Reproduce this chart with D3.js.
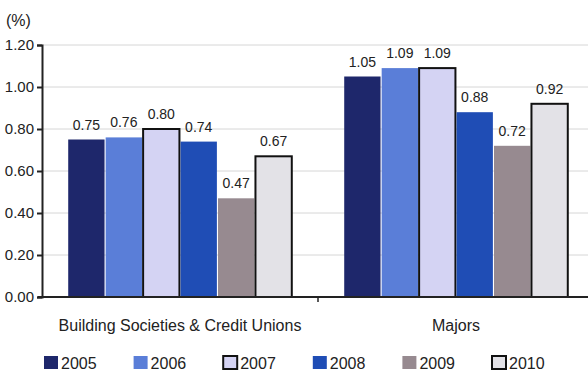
<!DOCTYPE html>
<html><head><meta charset="utf-8">
<script src="https://cdn.jsdelivr.net/npm/d3@7"></script>
<style>body{margin:0;background:#fff}svg{display:block;font-family:"Liberation Sans",Arial,sans-serif}</style>
</head><body><svg id="c" width="588" height="372"></svg>
<script>
const categories = ["Building Societies & Credit Unions", "Majors"];
const years = ["2005", "2006", "2007", "2008", "2009", "2010"];
const values2005 = [0.75, 1.05];
const values2006 = [0.76, 1.09];
const values2007 = [0.80, 1.09];
const values2008 = [0.74, 0.88];
const values2009 = [0.47, 0.72];
const values2010 = [0.67, 0.92];
const yTicks = [0, 0.2, 0.4, 0.6, 0.8, 1.0, 1.2];

const series = [values2005, values2006, values2007, values2008, values2009, values2010];
const colors = ["#1e276b", "#5a7ed8", "#d4d3f3", "#1f4db5", "#978a90", "#e3e2e7"];
const strokes = [null, null, "#111", null, null, "#111"];
const FONT = "'Liberation Sans', Arial, sans-serif";

const svg = d3.select("#c");
const x0 = d3.scaleBand().domain(categories).range([42, 594]).paddingInner(0).paddingOuter(0);
const x1 = d3.scaleBand().domain(years).range([0, x0.bandwidth()]).paddingInner(0.03).paddingOuter(0.7);
const y = d3.scaleLinear().domain([0, 1.2]).range([297, 45]);

// gridlines
svg.append("g").selectAll("line").data(yTicks.slice(1)).join("line")
  .attr("x1", 42).attr("x2", 588).attr("y1", d => y(d)).attr("y2", d => y(d))
  .attr("stroke", "#d6d6d6").attr("stroke-width", 1);

// y axis
const yAxis = d3.axisLeft(y).tickValues(yTicks).tickFormat(d3.format(".2f")).tickSize(5).tickPadding(3);
const gy = svg.append("g").attr("transform", "translate(42,0)").call(yAxis);
gy.select(".domain").attr("stroke", "#222").attr("stroke-width", 2);
gy.selectAll(".tick line").attr("stroke", "#222").attr("stroke-width", 2);
gy.selectAll("text").attr("font-size", 15).attr("fill", "#222").attr("font-family", FONT);

svg.append("text").attr("x", 6).attr("y", 26).attr("font-size", 16).attr("fill", "#222").text("(%)");

// bars
const groups = svg.append("g").selectAll("g").data(categories).join("g")
  .attr("transform", d => `translate(${x0(d)},0)`);
series.forEach((vals, si) => {
  groups.append("rect")
    .attr("x", x1(years[si]))
    .attr("width", x1.bandwidth())
    .attr("y", (d, i) => y(vals[i]))
    .attr("height", (d, i) => y(0) - y(vals[i]))
    .attr("fill", colors[si])
    .attr("stroke", strokes[si] || "none")
    .attr("stroke-width", strokes[si] ? 2 : 0);
  groups.append("text")
    .attr("x", x1(years[si]) + x1.bandwidth() / 2)
    .attr("y", (d, i) => y(vals[i]) - 10)
    .attr("text-anchor", "middle").attr("font-size", 14).attr("fill", "#222")
    .text((d, i) => vals[i].toFixed(2));
});

// x axis
svg.append("line").attr("x1", 38).attr("x2", 588).attr("y1", y(0)).attr("y2", y(0)).attr("stroke", "#222").attr("stroke-width", 2);
svg.append("line").attr("x1", x0("Majors")).attr("x2", x0("Majors")).attr("y1", y(0)).attr("y2", y(0) + 5).attr("stroke", "#222").attr("stroke-width", 1.5);
svg.append("g").selectAll("text").data(categories).join("text")
  .attr("x", d => x0(d) + x0.bandwidth() / 2)
  .attr("y", 331).attr("text-anchor", "middle").attr("font-size", 16).attr("fill", "#222").text(d => d);

// legend
const leg = svg.append("g").selectAll("g").data(years).join("g")
  .attr("transform", (d, i) => `translate(${44 + i * 89.6},356)`);
leg.append("rect").attr("width", 14).attr("height", 13)
  .attr("fill", (d, i) => colors[i])
  .attr("stroke", (d, i) => strokes[i] || colors[i]).attr("stroke-width", (d, i) => strokes[i] ? 2 : 0);
leg.append("text").attr("x", 17).attr("y", 13).attr("font-size", 16).attr("fill", "#222").text(d => d);
</script></body></html>
